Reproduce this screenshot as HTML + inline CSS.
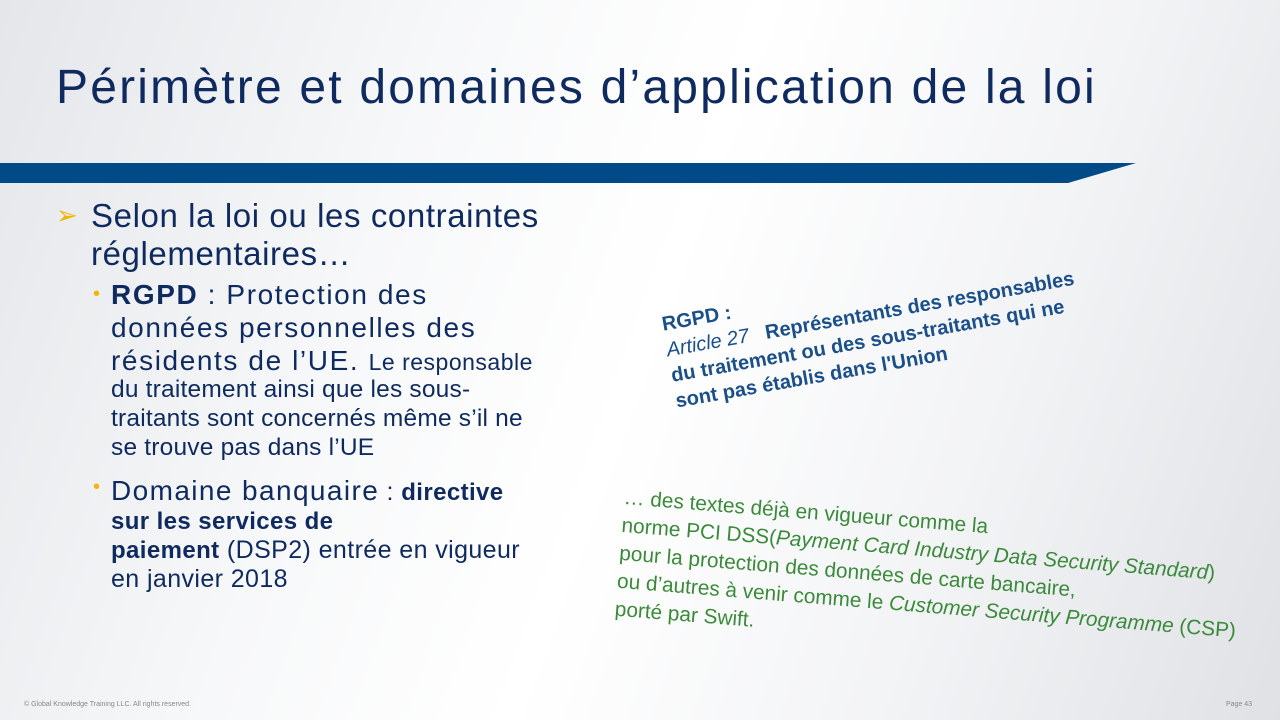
<!DOCTYPE html>
<html><head><meta charset="utf-8"><style>
body{margin:0;width:1280px;height:720px;overflow:hidden;font-family:"Liberation Sans",sans-serif;
background:linear-gradient(110deg,#e4e6ea 0%,#f7f8f9 30%,#ffffff 50%,#f2f3f5 75%,#dfe1e5 100%);position:relative}
.a{position:absolute}
</style></head><body>
<div class="a" style="left:56px;top:60px;font-size:48px;letter-spacing:2.2px;color:#0e2a5f;white-space:nowrap">Périmètre et domaines d’application de la loi</div>
<svg class="a" style="left:0;top:163px" width="1140" height="21"><polygon points="0,0 1136,0 1068,20 0,20" fill="#004a87"/></svg>
<div class="a" style="left:56px;top:200px;color:#f2b600;font-size:26px">➢</div>
<div class="a" style="left:91px;top:197px;font-size:33px;line-height:38px;letter-spacing:0.6px;color:#0e2a5f;white-space:nowrap">Selon la loi ou les contraintes<br>réglementaires…</div>
<div class="a" style="left:93px;top:278px;font-size:28px;line-height:33px;letter-spacing:1.6px;color:#0e2a5f;white-space:nowrap">
<span style="color:#f2b600;font-size:20px;position:absolute;left:0;top:0">•</span>
<div style="padding-left:18px"><b>RGPD</b> : Protection des<br>données personnelles des<br>résidents de l’UE. <span style="font-size:23px;letter-spacing:0.5px">Le responsable</span><br><div style="font-size:24.5px;line-height:29px;letter-spacing:0.2px;margin-top:-4px">du traitement ainsi que les sous-<br>traitants sont concernés même s’il ne<br>se trouve pas dans l’UE</div></div></div>
<div class="a" style="left:93px;top:476px;color:#0e2a5f;white-space:nowrap">
<span style="color:#f2b600;font-size:20px;position:absolute;left:0;top:0">•</span>
<div style="padding-left:18px;font-size:25px;line-height:29px;letter-spacing:0.4px"><span style="font-size:28px;letter-spacing:1.4px">Domaine banquaire</span> : <b style="font-size:24px">directive</b><br><b style="font-size:24px">sur les services de</b><br><b style="font-size:24px">paiement</b> (DSP2) entrée en vigueur<br>en janvier 2018</div></div>
<div class="a" style="left:660px;top:312px;font-size:20px;line-height:26px;color:#1a4f8a;transform:rotate(-10deg);transform-origin:0 0;white-space:nowrap">
<b>RGPD :</b><br><i>Article 27</i>&nbsp;&nbsp; <b>Représentants des responsables</b><br><b>du traitement ou des sous-traitants qui ne</b><br><b>sont pas établis dans l'Union</b></div>
<div class="a" style="left:625px;top:484px;font-size:20.8px;line-height:28px;color:#3a8a3a;transform:rotate(4.6deg);transform-origin:0 0;white-space:nowrap">
… des textes déjà en vigueur comme la<br>norme PCI DSS(<i>Payment Card Industry Data Security Standard</i>)<br>pour la protection des données de carte bancaire,<br>ou d’autres à venir comme le <i>Customer Security Programme</i> (CSP)<br>porté par Swift.</div>
<div class="a" style="left:24px;top:701px;font-size:7px;color:#888">© Global Knowledge Training LLC. All rights reserved.</div>
<div class="a" style="left:1226px;top:701px;font-size:7px;color:#888">Page 43</div>
</body></html>
